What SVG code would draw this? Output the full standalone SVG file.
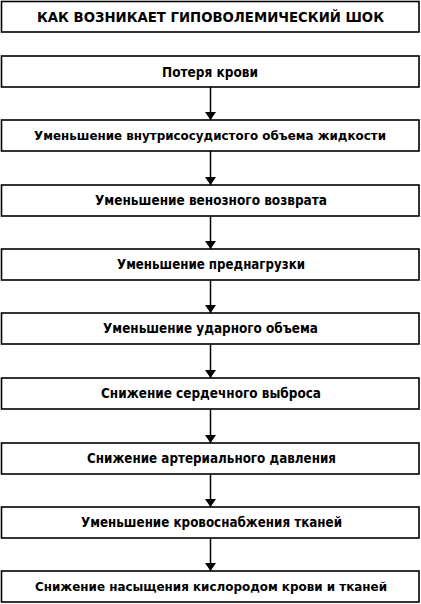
<svg xmlns="http://www.w3.org/2000/svg" width="421" height="604" viewBox="0 0 421 604">
<defs>
<style>
.box{fill:#fff;stroke:#000;stroke-width:1.6}
.t{font-family:"DejaVu Sans","Liberation Sans",sans-serif;font-weight:bold;font-size:13.5px;fill:#000;text-anchor:middle}
.long{font-size:12.5px}
.title{font-family:"DejaVu Sans","Liberation Sans",sans-serif;font-weight:bold;font-size:14.5px;fill:#000;text-anchor:middle}
.c{stroke:#000;stroke-width:1.5;fill:none}
</style>
<marker id="ah" viewBox="0 0 8 11" refX="8" refY="5.5" markerWidth="8" markerHeight="11" markerUnits="userSpaceOnUse" orient="auto">
<path d="M0,0 L8,5.5 L0,11 Z" fill="#000"/>
</marker>
</defs>
<rect width="421" height="604" fill="#fff"/>
<g id="title">
<rect class="box" x="1.5" y="1.5" width="417.5" height="30.5"/>
<text class="title" x="210.5" y="22" textLength="347" lengthAdjust="spacingAndGlyphs">КАК ВОЗНИКАЕТ ГИПОВОЛЕМИЧЕСКИЙ ШОК</text>
</g>
<g id="connectors">
<line class="c" x1="210.5" y1="87" x2="210.5" y2="120" marker-end="url(#ah)"/>
<line class="c" x1="210.5" y1="151" x2="210.5" y2="185" marker-end="url(#ah)"/>
<line class="c" x1="210.5" y1="216" x2="210.5" y2="249" marker-end="url(#ah)"/>
<line class="c" x1="210.5" y1="280" x2="210.5" y2="313" marker-end="url(#ah)"/>
<line class="c" x1="210.5" y1="344" x2="210.5" y2="378" marker-end="url(#ah)"/>
<line class="c" x1="210.5" y1="409" x2="210.5" y2="443" marker-end="url(#ah)"/>
<line class="c" x1="210.5" y1="474" x2="210.5" y2="507" marker-end="url(#ah)"/>
<line class="c" x1="210.5" y1="538" x2="210.5" y2="571" marker-end="url(#ah)"/>
</g>
<g id="n1">
<rect class="box" x="1.5" y="56" width="417.5" height="31"/>
<text class="t" x="210" y="76.5" textLength="96" lengthAdjust="spacingAndGlyphs">Потеря крови</text>
</g>
<g id="n2">
<rect class="box" x="1.5" y="120" width="417.5" height="31"/>
<text class="t long" x="210" y="140" textLength="352" lengthAdjust="spacingAndGlyphs">Уменьшение внутрисосудистого объема жидкости</text>
</g>
<g id="n3">
<rect class="box" x="1.5" y="185" width="417.5" height="31"/>
<text class="t" x="211" y="205" textLength="232" lengthAdjust="spacingAndGlyphs">Уменьшение венозного возврата</text>
</g>
<g id="n4">
<rect class="box" x="1.5" y="249" width="417.5" height="31"/>
<text class="t" x="211" y="269" textLength="188" lengthAdjust="spacingAndGlyphs">Уменьшение преднагрузки</text>
</g>
<g id="n5">
<rect class="box" x="1.5" y="313" width="417.5" height="31"/>
<text class="t" x="210.5" y="333" textLength="215" lengthAdjust="spacingAndGlyphs">Уменьшение ударного объема</text>
</g>
<g id="n6">
<rect class="box" x="1.5" y="378" width="417.5" height="31"/>
<text class="t" x="211" y="398" textLength="220" lengthAdjust="spacingAndGlyphs">Снижение сердечного выброса</text>
</g>
<g id="n7">
<rect class="box" x="1.5" y="443" width="417.5" height="31"/>
<text class="t" x="211.5" y="463" textLength="249" lengthAdjust="spacingAndGlyphs">Снижение артериального давления</text>
</g>
<g id="n8">
<rect class="box" x="1.5" y="507" width="417.5" height="31"/>
<text class="t" x="211.5" y="527" textLength="261" lengthAdjust="spacingAndGlyphs">Уменьшение кровоснабжения тканей</text>
</g>
<g id="n9">
<rect class="box" x="1.5" y="571" width="417.5" height="31"/>
<text class="t long" x="211" y="591" textLength="352" lengthAdjust="spacingAndGlyphs">Снижение насыщения кислородом крови и тканей</text>
</g>
</svg>
